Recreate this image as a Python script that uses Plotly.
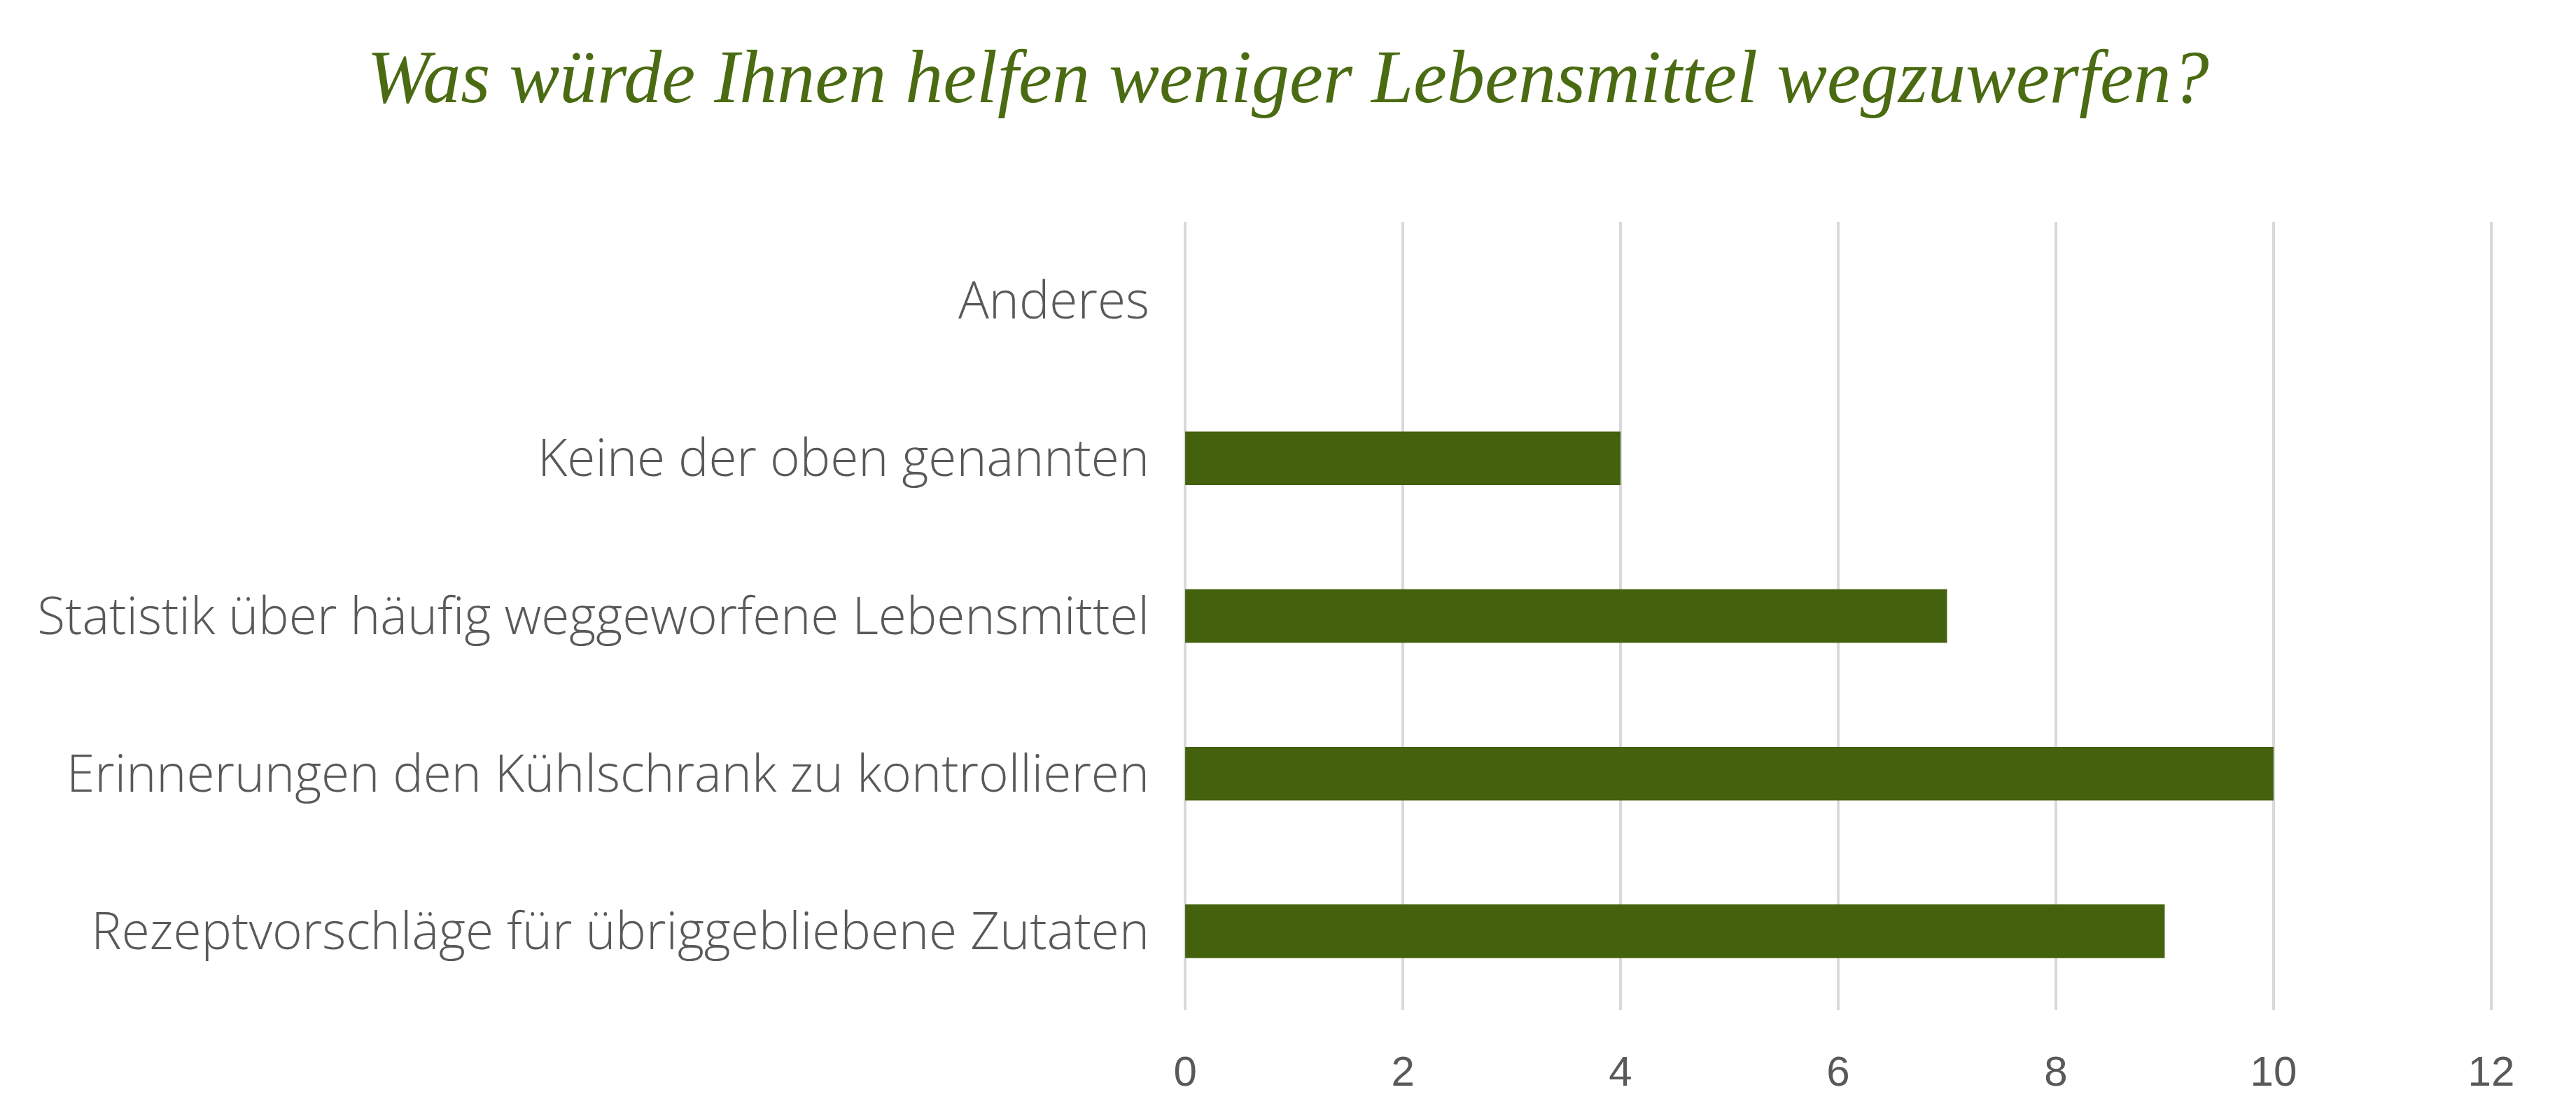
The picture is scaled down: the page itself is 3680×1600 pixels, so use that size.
import plotly.graph_objects as go

# answers, bottom to top as drawn
kategorien = [
    "Rezeptvorschläge für übriggebliebene Zutaten",
    "Erinnerungen den Kühlschrank zu kontrollieren",
    "Statistik über häufig weggeworfene Lebensmittel",
    "Keine der oben genannten",
    "Anderes",
]
anzahl = [9, 10, 7, 4, 0]
x_ticks = [0, 2, 4, 6, 8, 10, 12]

titel = "Was würde Ihnen helfen weniger Lebensmittel wegzuwerfen?"

# page has an 8px body margin, so everything is moved up/left by 8px
L, R, T, B = 1682, 126, 309, 165
plot_w = 3680 - L - R
plot_h = 1600 - T - B

fig = go.Figure()
fig.add_trace(go.Bar(
    x=anzahl, y=kategorien, orientation="h",
    width=0.34,
    marker=dict(color="#44610e", line=dict(width=0)),
    hoverinfo="x+y",
))

fig.update_layout(
    width=3680, height=1600,
    paper_bgcolor="white", plot_bgcolor="white",
    margin=dict(l=L, r=R, t=T, b=B),
    showlegend=False,
    title=dict(
        text=titel, x=(1840 - 8) / 3680, xanchor="center", xref="container",
        y=1 - 100 / 1600, yanchor="middle", yref="container",
        font=dict(family="Liberation Serif", size=108, color="#4a6b12", style="italic"),
    ),
)

fig.update_xaxes(
    range=[-0.02, 12.02], tickvals=x_ticks, showgrid=True, gridcolor="#d9d9d9", gridwidth=4,
    zeroline=False, showline=False, ticks="",
    tickfont=dict(family="Liberation Sans", size=60, color="#595959"),
    ticklabelstandoff=47, fixedrange=True, automargin=False,
)
fig.update_yaxes(
    categoryorder="array", categoryarray=kategorien,
    showgrid=False, zeroline=False, showline=False, ticks="",
    tickfont=dict(family="Open Sans", size=73, color="#595959", weight=300),
    ticklabelstandoff=47, fixedrange=True, automargin=False,
)

# thin grey border on the right edge of the chart area
xr = (3668 - L) / plot_w
fig.add_shape(type="line", xref="paper", yref="paper",
              x0=xr, x1=xr, y0=-B / plot_h, y1=1 + T / plot_h,
              line=dict(color="#d9d9d9", width=4))

fig.write_html("out.html")
